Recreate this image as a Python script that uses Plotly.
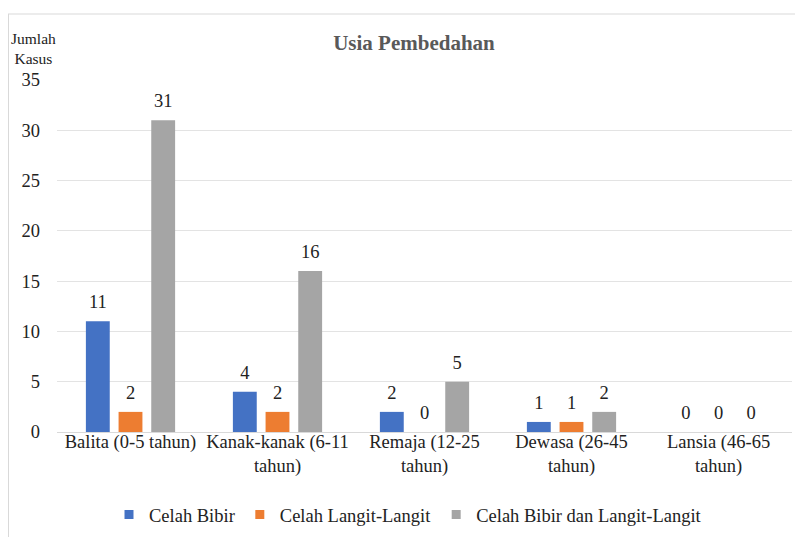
import plotly.graph_objects as go

categories = ["Balita (0-5 tahun)", "Kanak-kanak (6-11<br>tahun)", "Remaja (12-25<br>tahun)",
              "Dewasa (26-45<br>tahun)", "Lansia (46-65<br>tahun)"]
celah_bibir = [11, 4, 2, 1, 0]
celah_langit = [2, 2, 0, 1, 0]
celah_keduanya = [31, 16, 5, 2, 0]
series_names = ["Celah Bibir", "Celah Langit-Langit", "Celah Bibir dan Langit-Langit"]
colors = ["#4472C4", "#ED7D31", "#A5A5A5"]

FONT = "Liberation Serif"
FS = 18.5
OFF = 8  # page body margin offset

fig = go.Figure()
all_vals = [celah_bibir, celah_langit, celah_keduanya]
for i, (name, vals, col) in enumerate(zip(series_names, all_vals, colors)):
    fig.add_trace(go.Bar(
        x=categories, y=vals, name=name, marker_color=col, marker_line_width=0,
        showlegend=False, offsetgroup=str(i),
    ))
# value labels, grouped like the bars
for i, (name, vals, col) in enumerate(zip(series_names, all_vals, colors)):
    fig.add_trace(go.Scatter(
        x=categories, y=vals, mode="markers+text", text=[str(v) for v in vals],
        textposition="top center", cliponaxis=False, showlegend=False, hoverinfo="skip",
        marker=dict(size=12, opacity=0, color=col), offsetgroup=str(i),
        textfont=dict(family=FONT, size=FS, color="#222"),
    ))
# legend proxies (small square swatches)
for i, (name, col) in enumerate(zip(series_names, colors)):
    fig.add_trace(go.Scatter(x=[categories[0]], y=[None], mode="markers", name=name,
                             offsetgroup=str(i),
                             marker=dict(symbol="square", size=9, color=col)))

L, T, W, H = 57 - OFF, 80 - OFF, 735, 352
B = T + H
fig.update_layout(
    width=803, height=537,
    margin=dict(l=L, r=803 - L - W, t=T, b=537 - T - H, autoexpand=False),
    paper_bgcolor="white", plot_bgcolor="white",
    barmode="group", bargap=0.333, bargroupgap=0.27,
    scattermode="group", scattergap=0.333,
    font=dict(family=FONT, color="#222"),
    title=dict(text="<b>Usia Pembedahan</b>", x=(414 - OFF) / 803, xanchor="center",
               y=1 - (43 - OFF) / 537, yanchor="middle", automargin=False,
               font=dict(family=FONT, size=21, color="#595959")),
    xaxis=dict(showgrid=False, showline=True, linecolor="#d9d9d9", linewidth=1, automargin=False,
               tickfont=dict(family=FONT, size=FS, color="#222"), ticks="", ticklabelstandoff=-7),
    yaxis=dict(range=[0, 35], dtick=5, showgrid=True, gridcolor="#e3e3e3", gridwidth=1,
               zeroline=False, showline=False, ticks="", ticklabelstandoff=16, automargin=False,
               tickfont=dict(family=FONT, size=FS, color="#222")),
    legend=dict(orientation="h", x=(408 - OFF - L) / W, xanchor="center",
                y=(B - (515 - OFF)) / H, yanchor="middle",
                font=dict(family=FONT, size=FS, color="#222"), itemwidth=30,
                traceorder="normal"),
    showlegend=True,
)
fig.add_annotation(text="Jumlah<br>Kasus", xref="paper", yref="paper",
                   x=(34 - OFF - L) / W, y=(B - (48 - OFF)) / H, xanchor="center", yanchor="middle",
                   showarrow=False, font=dict(family=FONT, size=15.5, color="#222"))
# outer border
fig.add_shape(type="line", xref="paper", yref="paper",
              x0=(8 - OFF - L) / W, x1=(820 - L) / W, y0=(B - (14 - OFF)) / H, y1=(B - (14 - OFF)) / H,
              line=dict(color="#d9d9d9", width=1))
fig.add_shape(type="line", xref="paper", yref="paper",
              x0=(8 - OFF - L + 0.5) / W, x1=(8 - OFF - L + 0.5) / W, y0=(B - (14 - OFF)) / H, y1=(B - 560) / H,
              line=dict(color="#d9d9d9", width=1))

fig.write_html("out.html")
